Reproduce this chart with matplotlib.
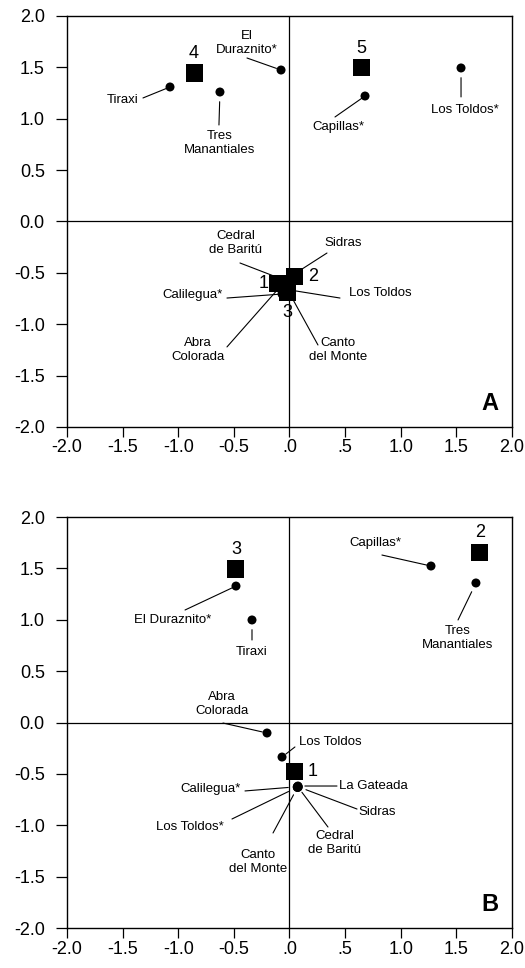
import matplotlib
matplotlib.use("Agg")
import matplotlib.pyplot as plt

plt.rcParams['font.family'] = ['Liberation Sans', 'DejaVu Sans']

# ---------------- data ----------------
# Panel A: sites (circles)
A_sites = ["Tiraxi", "Tres\nManantiales", "El\nDuraznito*", "Capillas*", "Los Toldos*",
           "Cedral\nde Baritú", "Sidras", "Calilegua*", "Los Toldos", "Abra\nColorada",
           "Canto\ndel Monte"]
A_x = [-1.074, -0.625, -0.076, 0.679, 1.542, -0.049, 0.045, -0.067, 0.004, -0.094, 0.004]
A_y = [1.309, 1.260, 1.474, 1.221, 1.494, -0.569, -0.51, -0.706, -0.667, -0.647, -0.706]
# Panel A: group centroids (squares)
A_groups = ["4", "5", "1", "2", "3"]
A_gx = [-0.858, 0.643, -0.112, 0.049, -0.022]
A_gy = [1.445, 1.494, -0.599, -0.540, -0.696]

# Panel B: sites
B_sites = ["El Duraznito*", "Tiraxi", "Capillas*", "Tres\nManantiales", "Abra\nColorada",
           "Los Toldos", "La Gateada", "Calilegua*", "Los Toldos*", "Canto\ndel Monte",
           "Cedral\nde Baritú", "Sidras"]
B_x = [-0.481, -0.337, 1.272, 1.676, -0.202, -0.067, 0.076, 0.07, 0.07, 0.072, 0.078, 0.078]
B_y = [1.328, 0.998, 1.523, 1.358, -0.102, -0.336, -0.618, -0.625, -0.63, -0.632, -0.63, -0.625]
B_groups = ["3", "2", "1"]
B_gx = [-0.481, 1.712, 0.049]
B_gy = [1.494, 1.659, -0.472]

ticks = [-2.0, -1.5, -1.0, -0.5, 0.0, 0.5, 1.0, 1.5, 2.0]
xtick_labels = ["-2.0", "-1.5", "-1.0", "-0.5", ".0", ".5", "1.0", "1.5", "2.0"]
ytick_labels = ["-2.0", "-1.5", "-1.0", "-0.5", "0.0", "0.5", "1.0", "1.5", "2.0"]

# ---------------- layout (label text pos, leader start, shrink at point) ----------------
A_layout = [
    ((-1.497, 1.182), (-1.317, 1.202), 3),
    ((-0.625, 0.764), (-0.634, 0.939), 7),
    ((-0.382, 1.737), (-0.382, 1.591), 3.5),
    ((0.436, 0.920), (0.409, 1.017), 2.5),
    ((1.578, 1.085), (1.542, 1.212), 7),
    ((-0.481, -0.209), (-0.445, -0.404), 0),
    ((0.481, -0.209), (0.337, -0.307), 0),
    ((-0.876, -0.715), (-0.562, -0.745), 0),
    ((0.813, -0.696), (0.454, -0.745), 0),
    ((-0.822, -1.251), (-0.562, -1.221), 0),
    ((0.436, -1.251), (0.256, -1.202), 0),
]
A_goff = [(0, 14), (0, 14), (-10, 0), (13, 0), (0, -14)]

B_layout = [
    ((-1.047, 0.998), (-0.939, 1.095), 2.5),
    ((-0.337, 0.686), (-0.337, 0.803), 7),
    ((0.769, 1.747), (0.831, 1.630), 3),
    ((1.515, 0.822), (1.515, 0.998), 7),
    ((-0.607, 0.180), (-0.598, -0.005), 3.5),
    ((0.364, -0.190), (0.049, -0.238), 3.5),
    ((0.751, -0.618), (0.427, -0.618), 5),
    ((-0.714, -0.647), (-0.400, -0.666), 6.5),
    ((-0.894, -1.017), (-0.517, -0.939), 7),
    ((-0.283, -1.358), (-0.148, -1.075), 6),
    ((0.409, -1.173), (0.346, -1.017), 4.5),
    ((0.787, -0.869), (0.607, -0.842), 6),
]
B_goff = [(0, 14), (0, 14), (13, 0)]

fig = plt.figure(figsize=(5.25, 9.68), dpi=100)
axA = fig.add_axes([0.1276, 0.5589, 0.8476, 0.4246])
axB = fig.add_axes([0.1276, 0.0413, 0.8476, 0.4246])


def draw(ax, names, xs, ys, layout, groups, gx, gy, goff, letter):
    ax.set_xlim(-2, 2)
    ax.set_ylim(-2, 2)
    ax.axhline(0, color='black', lw=0.9, zorder=1)
    ax.axvline(0, color='black', lw=0.9, zorder=1)
    ax.scatter(xs, ys, s=42, color='black', zorder=3, edgecolors='none')
    ax.scatter(gx, gy, s=150, marker='s', color='black', zorder=5, edgecolors='none')
    for name, x, y, (tpos, lpos, sh) in zip(names, xs, ys, layout):
        ax.text(tpos[0], tpos[1], name, ha='center', va='center', fontsize=9.5,
                linespacing=1.25, zorder=6)
        ax.annotate("", xy=(x, y), xytext=lpos, xycoords='data', textcoords='data',
                    arrowprops=dict(arrowstyle='-', lw=0.8, color='black',
                                    shrinkA=0, shrinkB=sh, patchA=None), zorder=2)
    for g, x, y, off in zip(groups, gx, gy, goff):
        ax.annotate(g, xy=(x, y), xytext=off, textcoords='offset points',
                    ha='center', va='center', fontsize=13, zorder=6)
    ax.text(0.951, 0.057, letter, transform=ax.transAxes, ha='center', va='center',
            fontsize=17, fontweight='bold')
    ax.set_xticks(ticks)
    ax.set_xticklabels(xtick_labels)
    ax.set_yticks(ticks)
    ax.set_yticklabels(ytick_labels)
    ax.tick_params(axis='x', direction='out', length=7, width=0.9, pad=2, labelsize=13)
    ax.tick_params(axis='y', direction='out', length=8, width=0.9, pad=8, labelsize=13)
    for sp in ax.spines.values():
        sp.set_linewidth(1.0)


draw(axA, A_sites, A_x, A_y, A_layout, A_groups, A_gx, A_gy, A_goff, "A")
draw(axB, B_sites, B_x, B_y, B_layout, B_groups, B_gx, B_gy, B_goff, "B")

fig.savefig("out.png", dpi=100)
